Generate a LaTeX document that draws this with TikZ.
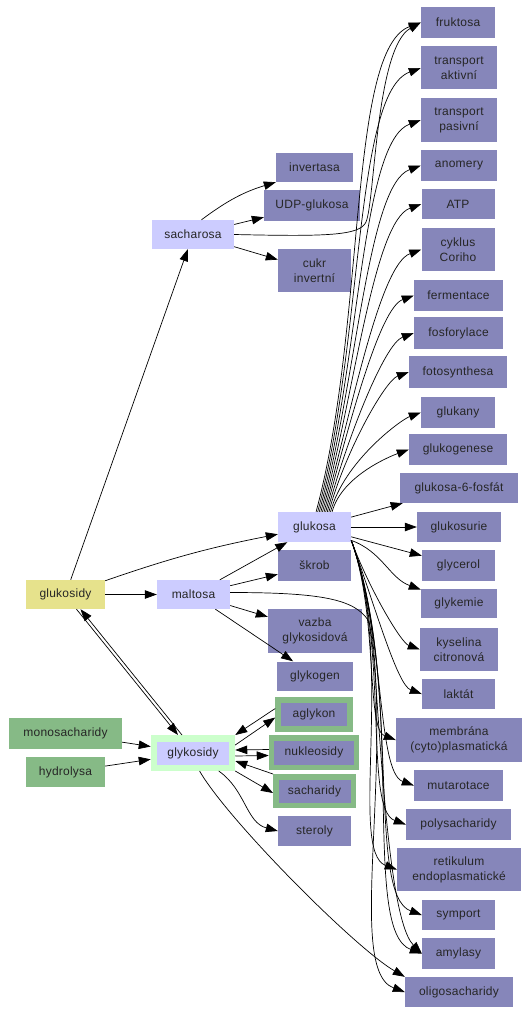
\documentclass[tikz,border=0pt]{standalone}
\usepackage{fontspec}
\setmainfont{Liberation Sans}[LetterSpace=2]
\usepackage{tikz}
\usetikzlibrary{arrows.meta,calc}
\definecolor{myleaf}{RGB}{134,134,186}
\definecolor{mymid}{RGB}{204,204,255}
\definecolor{mygreen}{RGB}{134,186,134}
\definecolor{mypale}{RGB}{204,255,204}
\definecolor{myyellow}{RGB}{230,226,140}

\begin{document}
\begin{tikzpicture}[x=1pt,y=1pt,>={Triangle[length=12pt,width=8.5pt]},
  every node/.style={font=\fontsize{12}{15}\selectfont,inner sep=2pt,
    minimum height=30pt,align=center,text=black!85},
  leafnode/.style={fill=myleaf},
  midnode/.style={fill=mymid},
  rootnode/.style={fill=myyellow},
  grpnode/.style={fill=mygreen},
  ringnode/.style={fill=myleaf,draw=mygreen,line width=5.5pt},
  rel/.style={->,line width=0.7pt}]

  \useasboundingbox (0,0) rectangle (530,-1014);

  % right column
  \node[leafnode,minimum width=74pt,minimum height=31pt] (fruktosa) at (458,-22.5) {fruktosa};
  \node[leafnode,minimum width=76pt,minimum height=43pt] (trakt) at (459,-68) {transport\\aktivní};
  \node[leafnode,minimum width=76pt,minimum height=44pt] (trpas) at (459,-120) {transport\\pasivní};
  \node[leafnode,minimum width=76pt,minimum height=31pt] (anomery) at (459,-165.5) {anomery};
  \node[leafnode,minimum width=73pt] (atp) at (458,-204) {ATP};
  \node[leafnode,minimum width=73pt,minimum height=43pt] (cori) at (458,-249.5) {cyklus\\Coriho};
  \node[leafnode,minimum width=89pt,minimum height=31pt] (ferm) at (458.5,-295.5) {fermentace};
  \node[leafnode,minimum width=89pt,minimum height=32pt] (fosf) at (458.5,-333) {fosforylace};
  \node[leafnode,minimum width=98pt,minimum height=32pt] (foto) at (458,-372) {fotosynthesa};
  \node[leafnode,minimum width=74pt,minimum height=31pt] (glukany) at (458,-412.5) {glukany};
  \node[leafnode,minimum width=98pt,minimum height=31pt] (glukog) at (458,-449.5) {glukogenese};
  \node[leafnode,minimum width=118pt] (g6f) at (459,-488) {glukosa-6-fosfát};
  \node[leafnode,minimum width=84pt] (glukosurie) at (459,-527) {glukosurie};
  \node[leafnode,minimum width=73pt,minimum height=31pt] (glycerol) at (458.5,-565.5) {glycerol};
  \node[leafnode,minimum width=76pt,minimum height=29pt] (glykemie) at (459,-603.5) {glykemie};
  \node[leafnode,minimum width=78pt,minimum height=43pt] (kyselina) at (459,-649.5) {kyselina\\citronová};
  \node[leafnode,minimum width=73pt] (laktat) at (458.5,-694) {laktát};
  \node[leafnode,minimum width=126pt,minimum height=44pt] (membrana) at (459,-740) {membrána\\(cyto)plasmatická};
  \node[leafnode,minimum width=89pt,minimum height=31pt] (mutarotace) at (458.5,-785.5) {mutarotace};
  \node[leafnode,minimum width=105pt,minimum height=31pt] (polysach) at (458.5,-824.5) {polysacharidy};
  \node[leafnode,minimum width=124pt,minimum height=43pt] (retikulum) at (459,-869.5) {retikulum\\endoplasmatické};
  \node[leafnode,minimum width=73pt] (symport) at (458.5,-915) {symport};
  \node[leafnode,minimum width=73pt,minimum height=31pt] (amylasy) at (458.5,-953.5) {amylasy};
  \node[leafnode,minimum width=108pt] (oligosach) at (459,-992) {oligosacharidy};

  % middle column
  \node[leafnode,minimum width=77pt,minimum height=29pt] (invertasa) at (314.5,-167.5) {invertasa};
  \node[leafnode,minimum width=96pt,minimum height=31pt] (udp) at (312,-205.5) {UDP-glukosa};
  \node[leafnode,minimum width=73pt,minimum height=43pt] (cukr) at (314.5,-270.5) {cukr\\invertní};
  \node[midnode,minimum width=82pt,minimum height=29pt] (sacharosa) at (193,-234.5) {sacharosa};
  \node[midnode,minimum width=73pt] (glukosa) at (314.5,-527) {glukosa};
  \node[leafnode,minimum width=73pt,minimum height=31pt] (skrob) at (314.5,-565.5) {škrob};
  \node[leafnode,minimum width=94pt,minimum height=44pt] (vazba) at (315,-631) {vazba\\glykosidová};
  \node[leafnode,minimum width=76pt,minimum height=29pt] (glykogen) at (315,-676) {glykogen};
  \node[ringnode,minimum width=72pt,minimum height=29pt] (aglykon) at (314,-714.5) {aglykon};
  \node[ringnode,minimum width=85pt,minimum height=29.5pt] (nukleosidy) at (314,-752.5) {nukleosidy};
  \node[ringnode,minimum width=77.5pt,minimum height=28.5pt] (sacharidy) at (314.5,-791) {sacharidy};
  \node[leafnode,minimum width=73pt] (steroly) at (314.5,-831) {steroly};

  % left column
  \node[rootnode,minimum width=79pt,minimum height=29pt] (glukosidy) at (65.5,-594.5) {glukosidy};
  \node[midnode,minimum width=73pt,minimum height=29pt] (maltosa) at (193.5,-594.5) {maltosa};
  \node[grpnode,minimum width=113pt,minimum height=31pt] (monosach) at (65.5,-733.5) {monosacharidy};
  \node[grpnode,minimum width=79pt] (hydrolysa) at (65.5,-772) {hydrolysa};
  \node[midnode,draw=mypale,line width=6.5pt,minimum width=78pt,minimum height=29.5pt] (glykosidy) at (193,-753) {glykosidy};

  \coordinate (mbend) at (368,-620);
  \coordinate (sbend) at (366,-222);

  % glukosidy
  \draw[rel] (glukosidy) -- (sacharosa);
  \draw[rel] (glukosidy) to[bend left=4] (glukosa);
  \draw[rel] (glukosidy) -- (maltosa);
  \draw[rel] ([xshift=11pt]glukosidy.south) -- ([xshift=-15pt]glykosidy.north);
  \draw[rel] ([xshift=-11pt]glykosidy.north) -- ([xshift=15pt]glukosidy.south);
  \draw[rel] (monosach) -- (glykosidy);
  \draw[rel] (hydrolysa) -- (glykosidy);

  % sacharosa
  \draw[rel] (sacharosa.60) to[bend left=10] (invertasa.south west);
  \draw[rel] (sacharosa) -- (udp);
  \draw[rel] (sacharosa) -- (cukr);
  \draw[rel] (sacharosa.east) .. controls +(90,-2) and +(-6,-14) .. (sbend)
    .. controls +(9,21) and +(-45,-25) .. (fruktosa.west);

  % maltosa
  \draw[rel] (maltosa) -- (glukosa);
  \draw[rel] (maltosa) -- (skrob);
  \draw[rel] (maltosa) -- (vazba);
  \draw[rel] (maltosa) -- (glykogen);
  \draw[rel] ([yshift=2pt]maltosa.east) .. controls +(90,0) and +(-14,21) .. (mbend)
    .. controls +(10,-15) and +(-40,40) .. (amylasy.west);

  % glukosa
  \foreach \t [count=\i] in {fruktosa,trakt,trpas,anomery,atp,cori,ferm,fosf,foto,glukany,glukog}
    \draw[rel] ([xshift=\i*1.6pt]glukosa.north) to[out=75,in=200,in looseness=0.4] (\t.west);
  \draw[rel] (glukosa) -- (g6f);
  \draw[rel] (glukosa) -- (glukosurie);
  \draw[rel] (glukosa) -- (glycerol);
  \draw[rel] (glukosa) to[out=-20,in=160] (glykemie);
  \foreach \t in {kyselina,laktat,membrana,mutarotace,polysach,retikulum,symport,amylasy,oligosach}
    \draw[rel] ([yshift=2pt]glukosa.south east) to[out=-70,in=160,in looseness=0.4] (\t.west);

  % glykosidy
  \draw[rel] ([yshift=6pt]aglykon.west) -- (glykosidy.north east);
  \draw[rel] ([yshift=8pt]glykosidy.east) -- ([yshift=-3pt]aglykon.west);
  \draw[rel] ([yshift=3pt]nukleosidy.west) -- ([yshift=3pt]glykosidy.east);
  \draw[rel] ([yshift=-3pt]glykosidy.east) -- ([yshift=-3pt]nukleosidy.west);
  \draw[rel] (sacharidy.north west) -- ([yshift=-8pt]glykosidy.east);
  \draw[rel] (glykosidy.south east) -- ([yshift=-2pt]sacharidy.west);
  \draw[rel] (glykosidy.-35) to[out=-35,in=165] (steroly.west);
  \draw[rel] (glykosidy.-70) to[out=-60,in=150,looseness=0.5] (oligosach.north west);
\end{tikzpicture}
\end{document}
